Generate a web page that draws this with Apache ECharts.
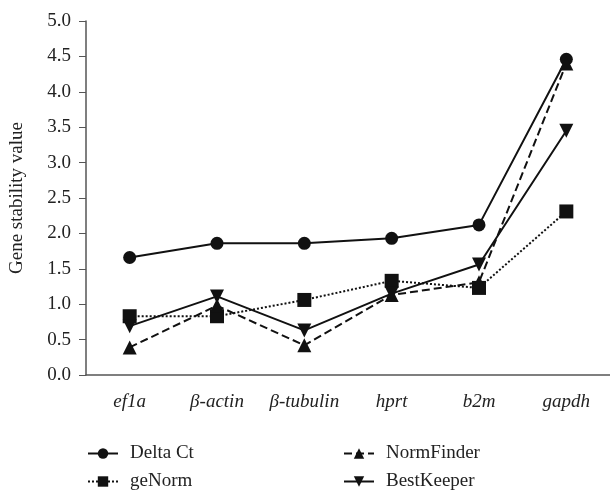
<!DOCTYPE html>
<html>
<head>
<meta charset="utf-8">
<script src="https://cdn.jsdelivr.net/npm/echarts@6/dist/echarts.min.js"></script>
<style>
body{margin:0;background:#fff;}
#main{width:610px;height:490px;}
</style>
</head>
<body>
<div id="main"></div>
<script>
var genes = ['ef1a', 'β-actin', 'β-tubulin', 'hprt', 'b2m', 'gapdh'];
var deltaCt = [1.66, 1.86, 1.86, 1.93, 2.12, 4.46];
var geNorm = [0.83, 0.83, 1.06, 1.33, 1.23, 2.31];
var normFinder = [0.39, 0.98, 0.42, 1.13, 1.31, 4.40];
var bestKeeper = [0.69, 1.11, 0.63, 1.15, 1.56, 3.45];
var yTicks = [0, 0.5, 1, 1.5, 2, 2.5, 3, 3.5, 4, 4.5, 5];

var myChart = echarts.init(document.getElementById('main'));
var serif = '"Liberation Serif", "DejaVu Serif", serif';

function mkSeries(name, data, symbol, type, rot) {
    return {
        name: name,
        type: 'line',
        data: data,
        symbol: symbol,
        symbolSize: symbol == 'circle' ? 13 : 14,
        symbolRotate: rot || 0,
        showSymbol: true,
        itemStyle: {color: '#111'},
        lineStyle: {color: '#111', width: 2, type: type},
        emphasis: {disabled: true}
    };
}

// one legend per entry, laid out as 2x2
function mkLegend(name, left, top) {
    return {
        left: left, top: top,
        itemWidth: 30, itemHeight: 13,
        textStyle: {fontFamily: serif, fontSize: 19, color: '#222', padding: [0, 0, 0, 7]},
        data: [name]
    };
}

option = {
    animation: false,
    grid: {left: 86, right: 0, top: 21, bottom: 115, outerBoundsMode: 'none'},
    legend: [
        mkLegend('Delta Ct', 82, 439),
        mkLegend('geNorm', 82, 467),
        mkLegend('NormFinder', 338, 439),
        mkLegend('BestKeeper', 338, 467)
    ],
    xAxis: {
        type: 'category',
        data: genes,
        boundaryGap: true,
        axisLine: {lineStyle: {color: '#555', width: 1.5}},
        axisTick: {alignWithLabel: true, length: 7, lineStyle: {color: '#555'}},
        axisLabel: {interval: 0, fontFamily: serif, fontStyle: 'italic', fontSize: 19, color: '#222', margin: 17}
    },
    yAxis: {
        type: 'value',
        min: yTicks[0],
        max: yTicks[yTicks.length - 1],
        interval: 0.5,
        name: 'Gene stability value',
        nameLocation: 'middle',
        nameGap: 59,
        nameTextStyle: {fontFamily: serif, fontSize: 19, color: '#222'},
        splitLine: {show: false},
        axisLine: {show: true, lineStyle: {color: '#555', width: 1.5}},
        axisTick: {show: true, length: 7, lineStyle: {color: '#555'}},
        axisLabel: {
            fontFamily: serif, fontSize: 19, color: '#222', margin: 15,
            formatter: function (v) { return v.toFixed(1); }
        }
    },
    series: [
        mkSeries('Delta Ct', deltaCt, 'circle', 'solid'),
        mkSeries('geNorm', geNorm, 'rect', 'dotted'),
        mkSeries('NormFinder', normFinder, 'triangle', 'dashed'),
        mkSeries('BestKeeper', bestKeeper, 'triangle', 'solid', 180)
    ]
};
myChart.setOption(option);
</script>
</body>
</html>
